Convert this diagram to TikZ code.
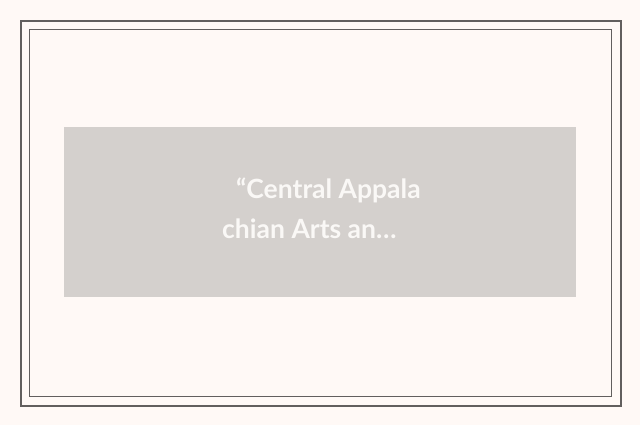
\documentclass[tikz,border=0pt]{standalone}
\usepackage{fontspec}
\setmainfont{Lato}
\definecolor{bgc}{HTML}{FFF9F6}
\definecolor{framec}{HTML}{625F5E}
\definecolor{boxc}{HTML}{D4D0CD}
\definecolor{txtc}{HTML}{FAF8F6}
\tikzset{
  outerframe/.style={draw=framec,line width=2pt},
  innerframe/.style={draw=framec,line width=1pt},
  panel/.style={fill=boxc,draw=none},
  label/.style={text=txtc,font=\fontsize{26.5}{40}\selectfont\bfseries,inner sep=0pt,anchor=base west}
}
\begin{document}
\begin{tikzpicture}[x=1pt,y=-1pt]
\fill[bgc] (0,0) rectangle (640,425);
\useasboundingbox (0,0) rectangle (640,425);
\draw[outerframe] (21,21) rectangle (621,406);
\draw[innerframe] (29.5,29.5) rectangle (611.5,396.5);
\fill[panel] (64,127) rectangle (576,297);
\node[label] (l1) at (236,198) {“Central Appala};
\node[label] (l2) at (222,238) {chian Arts an…};
\end{tikzpicture}
\end{document}
